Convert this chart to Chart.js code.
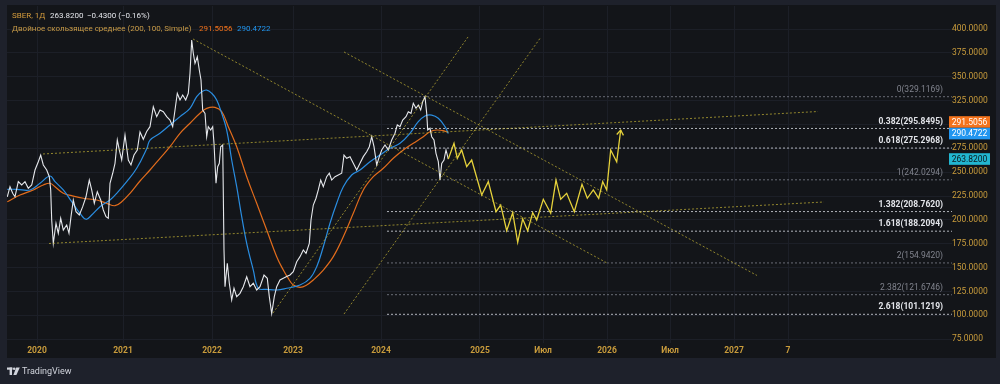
<!DOCTYPE html>
<html>
<head>
<meta charset="utf-8">
<script src="https://cdn.jsdelivr.net/npm/chart.js@4.4.1/dist/chart.umd.min.js"></script>
<style>
    html, body { margin: 0; padding: 0; background: #1e212b; }
    #wrap { width: 1000px; height: 384px; }
</style>
</head>
<body>
<div id="wrap"><canvas id="chart" width="1000" height="384"></canvas></div>
<script>
// ==========================================
// SBER daily + double SMA + fib / trend drawings
// ==========================================

// time axis: index of the visible range (0 = left edge of the pane)
const timeTicks  = [30, 116, 205, 286, 374, 473, 536, 600, 663, 727, 781];
const timeLabels = ['2020', '2021', '2022', '2023', '2024', '2025', 'Июл', '2026', 'Июл', '2027', '7'];
const priceTicks = [75, 100, 125, 150, 175, 200, 225, 250, 275, 300, 325, 350, 375, 400];

// close prices
const priceT = [0.3, 3, 5.7, 8, 11.3, 14.7, 18, 21.3, 24.7, 28, 31.3, 33.7, 36.3, 39.7, 42.3, 43.7, 44.7, 46.3, 49, 51.3,
    53.7, 56.3, 59.7, 62, 64, 66.3, 69, 72.3, 75.7, 79, 82.3, 84.7, 87.3, 90.3, 93.7, 96.3, 99, 101.3, 103, 105.7,
    108, 110.3, 112.3, 114.7, 118, 121.3, 124, 127, 130.3, 133, 136.3, 139.7, 143, 146.3, 149.7, 153, 156.3, 159.7, 163, 165.7,
    168, 170.3, 173, 175.7, 178.7, 181.3, 183, 184.7, 186.3, 188, 190.3, 192.3, 194, 195.7, 198, 199.7, 201.3, 203.7, 205.7, 207,
    209, 210.7, 212.3, 213.7, 215.7, 217, 218, 220.3, 222.3, 224.7, 227, 229.7, 233, 236.3, 239.7, 243, 246.3, 249.7, 253, 257,
    260.3, 262.3, 264.7, 267.3, 269.7, 273, 276.3, 279.7, 283, 286.3, 289.7, 293, 296.3, 299, 302.3, 304, 306.3, 309, 311.3, 313.7,
    316.3, 319.7, 322.3, 324.7, 328, 331.3, 334.7, 337, 339.7, 343, 346.3, 349.7, 353, 356.3, 359.7, 362.3, 364.7, 367, 369.7, 372.3,
    374.7, 378, 381.3, 384.7, 388, 390.3, 393, 395.7, 399, 401.3, 404, 406.3, 409, 411.3, 413.7, 415.7, 418, 419.7, 420.7, 423,
    424.7, 427, 429, 431.3, 433, 434.7, 437, 439, 441.3];
const priceClose = [224.3, 234.8, 227.9, 224.3, 240.1, 236.6, 240.1, 233.1, 236.6, 252.3, 261.0, 268.0, 257.6, 252.3, 245.3, 231.4, 199.9, 175.5, 196.5, 186.0,
    201.7, 189.4, 194.7, 186.0, 203.4, 220.9, 208.6, 205.2, 213.9, 224.3, 241.8, 231.4, 217.4, 229.6, 220.9, 210.4, 203.4, 201.7, 238.4, 248.9,
    259.3, 283.7, 273.3, 262.8, 289.0, 262.8, 257.6, 268.0, 273.3, 292.1, 284.5, 292.7, 297.7, 318.6, 308.2, 315.2, 313.4, 308.2, 304.7, 297.7,
    315.2, 332.7, 325.7, 330.9, 325.7, 332.7, 353.6, 388.5, 374.6, 364.1, 371.0, 357.1, 346.6, 315.2, 311.7, 287.2, 297.7, 294.2, 297.7, 280.3,
    238.4, 255.8, 259.3, 276.7, 278.5, 168.5, 130.0, 154.6, 133.6, 116.1, 128.4, 119.6, 123.1, 130.0, 140.5, 130.0, 133.6, 126.6, 130.0, 142.3,
    138.8, 119.6, 102.0, 119.6, 130.0, 137.1, 139.0, 140.7, 142.3, 145.8, 156.2, 161.5, 168.5, 165.0, 175.5, 199.9, 215.6, 222.7, 231.4, 241.8,
    234.8, 245.3, 248.9, 241.8, 245.3, 247.1, 248.9, 268.0, 264.6, 266.3, 259.3, 252.3, 259.3, 266.3, 271.5, 276.7, 287.2, 276.7, 257.6, 266.3,
    273.3, 278.5, 273.3, 283.7, 290.8, 299.5, 297.7, 304.7, 308.2, 313.4, 311.7, 322.2, 317.0, 320.4, 315.2, 323.9, 329.1, 311.7, 294.2, 296.0,
    287.2, 283.7, 269.8, 261.0, 242.0, 259.3, 262.8, 273.3, 263.8];

// SMA 100 (blue)
const ma100T = [0.3, 9.7, 23, 33, 43, 48, 56.3, 64.7, 73, 79, 84.7, 93, 103, 109.7, 119.7, 129.7, 140, 143, 153, 163,
    173, 183, 189.7, 194.7, 199.7, 204.7, 209.7, 214.7, 219.7, 224.7, 229.7, 234.7, 239.7, 246.3, 251.3, 259.7, 269.7, 279.7, 293, 303,
    309.7, 316.3, 323, 329.7, 336.3, 344.7, 353, 363, 373, 383, 393, 403, 411.3, 418, 424.7, 431.3, 438, 441.3];
const ma100 = [232.1, 232.1, 231.4, 238.4, 246.0, 240.1, 231.4, 219.1, 206.9, 200.7, 205.2, 213.9, 220.9, 227.9, 240.1, 254.1, 275.4, 283.7, 290.8, 299.5,
    308.2, 317.0, 329.1, 334.3, 336.1, 332.7, 325.7, 311.7, 294.2, 262.8, 234.8, 203.4, 175.5, 147.5, 128.4, 127.3, 126.6, 128.4, 131.8, 138.8,
    151.0, 171.9, 196.5, 217.4, 234.8, 247.1, 252.3, 261.0, 268.0, 275.0, 280.3, 290.8, 302.9, 308.9, 309.9, 306.5, 297.7, 290.5];

// SMA 200 (orange)
const ma200T = [0.3, 13, 26.3, 36.3, 43, 48, 56.3, 64.7, 76.3, 89.7, 99.7, 108, 114.7, 123, 133, 143, 153, 163, 173, 183,
    193, 199.7, 208, 214.7, 221.3, 229.7, 239.7, 249.7, 259.7, 269.7, 276.3, 281, 286.3, 293, 299.7, 306.3, 316.3, 326.3, 336.3, 346.3,
    356.3, 366.3, 376.3, 386.3, 396.3, 406.3, 416.3, 423, 429.7, 436.3, 441.3];
const ma200 = [219.1, 226.1, 231.4, 236.6, 238.4, 234.8, 227.9, 225.4, 222.7, 220.9, 217.4, 214.9, 219.1, 227.9, 240.8, 252.3, 264.6, 276.7, 290.8, 301.3,
    311.7, 316.9, 318.0, 313.4, 297.7, 276.7, 245.3, 217.4, 189.4, 161.5, 147.5, 139.2, 131.8, 129.4, 131.8, 137.1, 147.5, 161.5, 182.4, 206.9,
    231.4, 245.3, 254.1, 264.6, 273.3, 280.3, 287.2, 292.4, 294.2, 293.5, 291.5];

// hand-drawn forecast path
const forecastT = [441.3, 447, 450.3, 454.7, 459.7, 464.7, 474.7, 481.3, 489, 493.7, 499.7, 505.7, 510.7, 515.7, 520.7, 525.7, 529.7, 536.3, 543.7, 549,
    553.7, 559.7, 567.3, 575, 580.3, 586.3, 591.7, 595.7, 599.7, 603.7, 609.7, 613.7];
const forecastVal = [263.8, 280.3, 264.6, 273.3, 255.8, 262.8, 226.1, 240.1, 208.6, 215.6, 188.7, 207.6, 176.6, 201.0, 188.7, 207.6, 199.9, 221.6, 206.9, 241.8,
    221.6, 227.9, 208.6, 237.3, 222.7, 231.4, 222.7, 240.1, 231.4, 273.3, 261.0, 294.2];

// trend lines: [t1, price1, t2, price2]
const trendLines = [
    [186, 389.6, 600, 154.9],
    [337, 376.0, 750, 141.8],
    [36, 269.1, 811, 313.6],
    [42, 175.3, 817, 218.8],
    [266, 102.5, 461, 391.7],
    [337, 101.4, 534, 391.7]
];

// fibonacci extension
const fibRatios = [0, 0.382, 0.618, 1, 1.382, 1.618, 2, 2.382, 2.618];
const fibValues = [329.1169, 295.8495, 275.2968, 242.0294, 208.7620, 188.2094, 154.9420, 121.6746, 101.1219];
const fibStartT = 380;

// header values
const symbolName = 'SBER, 1Д';
const lastClose = 263.82;
const lastChange = -0.43;
const lastChangePct = -0.16;
const maTitle = 'Двойное скользящее среднее (200, 100, Simple)';
const ma200Last = 291.5056;
const ma100Last = 290.4722;

// ---------- styling ----------
const T_MAX = 945;
const FRAME = '#1e212b';
const PANE = '#131519';
const GRID = '#1c1f27';
const GOLD = '#c99c3c';
const FONT = 'Roboto, "Liberation Sans", sans-serif';
const fibBright = [0.382, 0.618, 1.382, 1.618, 2.618];

const toXY = (ts, vs) => ts.map((t, i) => ({ x: t, y: vs[i] }));
const fmtMinus = (v, d) => (v < 0 ? '\u2212' : '') + Math.abs(v).toFixed(d);

const datasets = [
    { data: toXY(forecastT, forecastVal), borderColor: '#e6d23b', borderWidth: 1.3, order: 1 },
    { data: toXY(priceT, priceClose), borderColor: '#e6e8ec', borderWidth: 1.1, order: 2 },
    { data: toXY(ma100T, ma100), borderColor: '#2a8de0', borderWidth: 1.2, tension: 0.4, order: 3 },
    { data: toXY(ma200T, ma200), borderColor: '#e26c1c', borderWidth: 1.2, tension: 0.4, order: 4 }
];
trendLines.forEach(l => {
    datasets.push({
        data: [{ x: l[0], y: l[1] }, { x: l[2], y: l[3] }],
        borderColor: 'rgba(196, 180, 52, 0.7)', borderWidth: 1, borderDash: [2, 2], order: 0
    });
});
fibValues.forEach((v, i) => {
    const bright = fibBright.includes(fibRatios[i]);
    datasets.push({
        data: [{ x: fibStartT, y: v }, { x: T_MAX, y: v }],
        borderColor: bright ? 'rgba(205, 208, 215, 0.85)' : 'rgba(120, 123, 134, 0.85)',
        borderWidth: 1, borderDash: [2, 2], order: 8
    });
});

// pane + frame background
const paneBg = {
    id: 'paneBg',
    beforeDraw(chart) {
        const { ctx, chartArea: a } = chart;
        ctx.save();
        ctx.fillStyle = FRAME;
        ctx.fillRect(0, 0, chart.width, chart.height);
        ctx.fillStyle = PANE;
        ctx.fillRect(a.left, a.top - 1, a.right - a.left + 44, a.bottom - a.top + 16);
        ctx.restore();
    }
};

// fib level labels + arrow head on forecast
const drawings = {
    id: 'drawings',
    afterDatasetsDraw(chart) {
        const { ctx, chartArea: a, scales: { x, y } } = chart;
        ctx.save();
        ctx.textAlign = 'right';
        ctx.textBaseline = 'middle';
        fibValues.forEach((v, i) => {
            const bright = fibBright.includes(fibRatios[i]);
            ctx.font = (bright ? 'bold ' : '') + '8.5px ' + FONT;
            ctx.fillStyle = bright ? '#e3e5ea' : '#80838d';
            ctx.fillText(fibRatios[i] + '(' + v.toFixed(4) + ')', a.right - 9, y.getPixelForValue(v) - 7);
        });

        // arrow head at the end of the forecast
        const n = forecastT.length;
        const x1 = x.getPixelForValue(forecastT[n - 2]), y1 = y.getPixelForValue(forecastVal[n - 2]);
        const x2 = x.getPixelForValue(forecastT[n - 1]), y2 = y.getPixelForValue(forecastVal[n - 1]);
        const ang = Math.atan2(y2 - y1, x2 - x1);
        ctx.strokeStyle = '#e6d23b';
        ctx.lineWidth = 1.3;
        ctx.beginPath();
        ctx.moveTo(x2 - 6 * Math.cos(ang - 0.6), y2 - 6 * Math.sin(ang - 0.6));
        ctx.lineTo(x2, y2);
        ctx.lineTo(x2 - 6 * Math.cos(ang + 0.6), y2 - 6 * Math.sin(ang + 0.6));
        ctx.stroke();
        ctx.restore();
    }
};

// last value tags on the price scale
const priceTags = {
    id: 'priceTags',
    afterDraw(chart) {
        const { ctx, chartArea: a, scales: { y } } = chart;
        const H = 11.6;
        const tags = [
            { v: ma200Last, bg: '#f4731c', fg: '#ffffff' },
            { v: ma100Last, bg: '#2196f0', fg: '#ffffff' },
            { v: lastClose, bg: '#22b6d0', fg: '#0d1a1f' }
        ].map(t => ({ ...t, py: y.getPixelForValue(t.v) }))
         .sort((p, q) => p.py - q.py);
        for (let i = tags.length - 2; i >= 0; i--) {
            if (tags[i].py > tags[i + 1].py - H) tags[i].py = tags[i + 1].py - H;
        }
        ctx.save();
        ctx.font = '8.5px ' + FONT;
        ctx.textAlign = 'center';
        ctx.textBaseline = 'middle';
        tags.forEach(t => {
            ctx.fillStyle = t.bg;
            ctx.fillRect(a.right - 3, t.py - H / 2, 41, H);
            ctx.fillStyle = t.fg;
            ctx.fillText(t.v.toFixed(4), a.right + 17.5, t.py + 0.5);
        });
        ctx.restore();
    }
};

// header legend and logo
const header = {
    id: 'header',
    afterDraw(chart) {
        const { ctx } = chart;
        ctx.save();
        ctx.textBaseline = 'middle';
        ctx.font = '8px ' + FONT;
        ctx.fillStyle = '#d59c3c';
        ctx.fillText(symbolName, 12, 16);
        ctx.fillStyle = '#e3e5ea';
        ctx.fillText(lastClose.toFixed(4), 50, 16);
        ctx.fillText(fmtMinus(lastChange, 4) + ' (' + fmtMinus(lastChangePct, 2) + '%)', 87, 16);
        ctx.fillStyle = '#c99c48';
        ctx.fillText(maTitle, 12, 28.5);
        ctx.fillStyle = '#f4731c';
        ctx.fillText(ma200Last.toFixed(4), 199, 28.5);
        ctx.fillStyle = '#2196f0';
        ctx.fillText(ma100Last.toFixed(4), 237, 28.5);

        // TradingView mark
        ctx.fillStyle = '#d1d4dc';
        ctx.fillRect(7, 367.5, 5.5, 2.2);
        ctx.fillRect(9.6, 367.5, 2.4, 7.5);
        ctx.beginPath();
        ctx.arc(14.2, 368.7, 1.3, 0, Math.PI * 2);
        ctx.fill();
        ctx.beginPath();
        ctx.moveTo(16.2, 367.5); ctx.lineTo(19.8, 367.5); ctx.lineTo(16.4, 375); ctx.lineTo(13.4, 375);
        ctx.closePath();
        ctx.fill();
        ctx.font = '9px ' + FONT;
        ctx.fillText('TradingView', 22, 371.5);
        ctx.restore();
    }
};

new Chart(document.getElementById('chart').getContext('2d'), {
    type: 'line',
    data: { datasets: datasets },
    plugins: [paneBg, drawings, priceTags, header],
    options: {
        responsive: false,
        animation: false,
        layout: { padding: { left: 7, top: 6, right: 4, bottom: 26 } },
        elements: { point: { radius: 0 }, line: { tension: 0 } },
        plugins: { legend: { display: false }, tooltip: { enabled: false } },
        scales: {
            x: {
                type: 'linear', min: 0, max: T_MAX,
                afterBuildTicks: s => { s.ticks = timeTicks.map(v => ({ value: v })); },
                afterFit: s => { s.height = 15; },
                grid: { color: GRID, drawTicks: false },
                border: { display: false },
                ticks: {
                    color: GOLD, font: { family: FONT, size: 8.5, weight: 'bold' },
                    padding: 3, maxRotation: 0, autoSkip: false,
                    callback: (v, i) => timeLabels[i]
                }
            },
            y: {
                type: 'linear', position: 'right', min: 71.05, max: 424.15,
                afterBuildTicks: s => { s.ticks = priceTicks.map(v => ({ value: v })); },
                afterFit: s => { s.width = 44; },
                grid: { color: GRID, drawTicks: false },
                border: { display: false },
                ticks: {
                    color: GOLD, font: { family: FONT, size: 8.5 },
                    padding: 0,
                    callback: v => Number(v).toFixed(4)
                }
            }
        }
    }
});
</script>
</body>
</html>
